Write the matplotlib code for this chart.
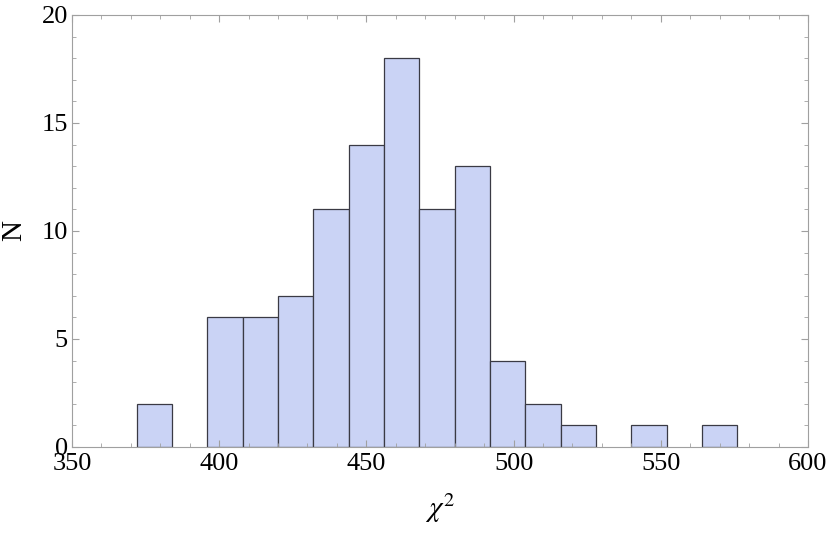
import matplotlib.pyplot as plt
from matplotlib.ticker import MultipleLocator

# histogram of chi^2 values, bin width 12
bin_left = [372, 396, 408, 420, 432, 444, 456, 468, 480, 492, 504, 516, 540, 564]
counts = [2, 6, 6, 7, 11, 14, 18, 11, 13, 4, 2, 1, 1, 1]
bin_width = 12

plt.rcParams['font.family'] = ['Liberation Serif', 'DejaVu Serif']
plt.rcParams['mathtext.fontset'] = 'stix'

fig = plt.figure(figsize=(8.3, 5.49), dpi=100)
ax = fig.add_axes([0.0867, 0.1858, 0.8868, 0.7869])

ax.bar(bin_left, counts, width=bin_width, align='edge',
       color='#cad3f5', edgecolor='#3a3a44', linewidth=0.9)

ax.set_xlim(350, 600)
ax.set_ylim(0, 20)
ax.xaxis.set_major_locator(MultipleLocator(50))
ax.xaxis.set_minor_locator(MultipleLocator(10))
ax.yaxis.set_major_locator(MultipleLocator(5))
ax.yaxis.set_minor_locator(MultipleLocator(1))

for s in ax.spines.values():
    s.set_color('#a0a0a0')
    s.set_linewidth(0.8)
ax.tick_params(which='both', direction='in', top=True, right=True,
               color='#a0a0a0', labelsize=19)
ax.tick_params(which='major', length=5)
ax.tick_params(which='minor', length=3)
ax.tick_params(axis='x', pad=4)
ax.tick_params(axis='y', pad=3)

ax.set_xlabel(r'$\chi^2$', fontsize=21, labelpad=12)
ax.set_ylabel('N', fontsize=21, labelpad=10)

fig.savefig('out.png', dpi=100)
